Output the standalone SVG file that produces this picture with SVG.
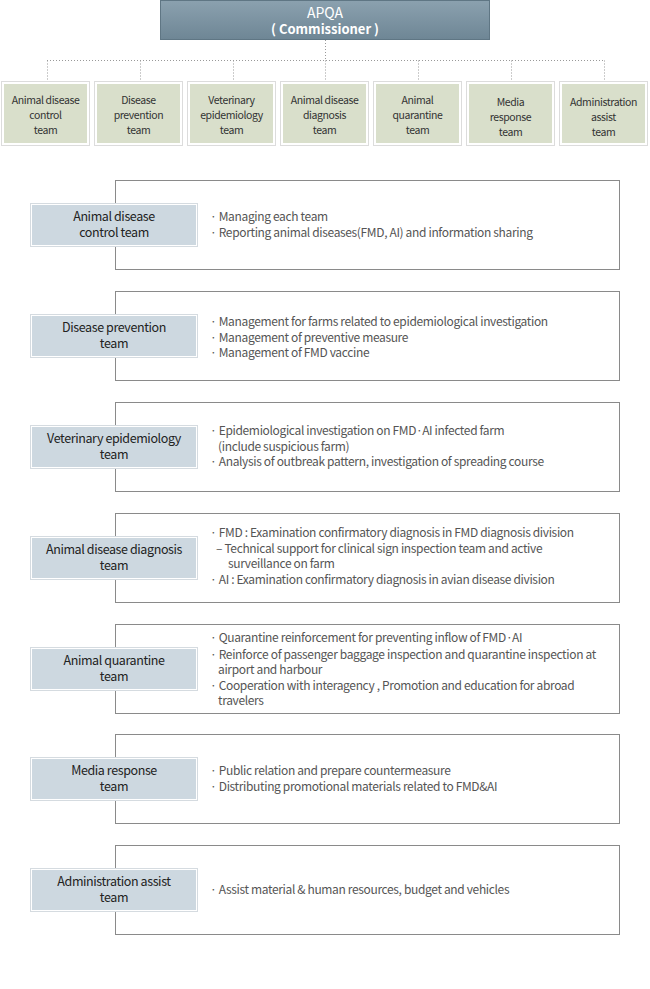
<svg xmlns="http://www.w3.org/2000/svg" width="650" height="989" viewBox="0 0 650 989">
<defs>
<linearGradient id="hg" x1="0" y1="0" x2="0" y2="1">
<stop offset="0" stop-color="#8ba1af"/>
<stop offset="1" stop-color="#6e8695"/>
</linearGradient>
</defs>
<style>
.t{font-family:"Noto Sans CJK KR","Noto Sans",sans-serif;}
.team rect.o{fill:#ffffff;stroke:#dcdcdc;stroke-width:1;}
.team rect.i{fill:#d9dfcb;}
.team text{font-size:10.5px;fill:#333;text-anchor:middle;letter-spacing:-0.4px;}
.con line{stroke:#999;stroke-width:1;stroke-dasharray:1,2;}
.row rect.box{fill:#fff;stroke:#8a8a8a;stroke-width:1;}
.row rect.lo{fill:#fff;stroke:#d5dbe0;stroke-width:1;}
.row rect.li{fill:#cdd8e0;}
.row text.lab{font-size:12.5px;fill:#222;text-anchor:middle;letter-spacing:-0.4px;}
.row text.d{font-size:12px;fill:#555;letter-spacing:-0.35px;}
</style>

<g id="apqa">
<rect x="160.5" y="0.5" width="329" height="39" fill="url(#hg)" stroke="#5f7684"/>
<text class="t" x="325" y="18" font-size="14" fill="#fff" text-anchor="middle">APQA</text>
<text class="t" x="325" y="34" font-size="13" font-weight="bold" fill="#fff" text-anchor="middle">( Commissioner )</text>
</g>

<g id="connectors" class="con">
<line x1="325.5" y1="40" x2="325.5" y2="60.5"/>
<line x1="47" y1="60.5" x2="604" y2="60.5"/>
<line x1="47.5" y1="60.5" x2="47.5" y2="80"/>
<line x1="140.5" y1="60.5" x2="140.5" y2="80"/>
<line x1="233.5" y1="60.5" x2="233.5" y2="80"/>
<line x1="325.5" y1="60.5" x2="325.5" y2="80"/>
<line x1="418.5" y1="60.5" x2="418.5" y2="80"/>
<line x1="511.5" y1="60.5" x2="511.5" y2="80"/>
<line x1="604.5" y1="60.5" x2="604.5" y2="80"/>
</g>

<g id="team1" class="team t"><rect class="o" x="1.5" y="81.5" width="88" height="64"/><rect class="i" x="4" y="84" width="83" height="59"/>
<text x="45.5" y="104">Animal disease</text><text x="45.5" y="119">control</text><text x="45.5" y="134">team</text></g>
<g id="team2" class="team t"><rect class="o" x="94.5" y="81.5" width="88" height="64"/><rect class="i" x="97" y="84" width="83" height="59"/>
<text x="138.5" y="104">Disease</text><text x="138.5" y="119">prevention</text><text x="138.5" y="134">team</text></g>
<g id="team3" class="team t"><rect class="o" x="187.5" y="81.5" width="88" height="64"/><rect class="i" x="190" y="84" width="83" height="59"/>
<text x="231.5" y="104">Veterinary</text><text x="231.5" y="119">epidemiology</text><text x="231.5" y="134">team</text></g>
<g id="team4" class="team t"><rect class="o" x="280.5" y="81.5" width="88" height="64"/><rect class="i" x="283" y="84" width="83" height="59"/>
<text x="324.5" y="104">Animal disease</text><text x="324.5" y="119">diagnosis</text><text x="324.5" y="134">team</text></g>
<g id="team5" class="team t"><rect class="o" x="373.5" y="81.5" width="88" height="64"/><rect class="i" x="376" y="84" width="83" height="59"/>
<text x="417.5" y="104">Animal</text><text x="417.5" y="119">quarantine</text><text x="417.5" y="134">team</text></g>
<g id="team6" class="team t"><rect class="o" x="466.5" y="81.5" width="88" height="64"/><rect class="i" x="469" y="84" width="83" height="59"/>
<text x="510.5" y="106">Media</text><text x="510.5" y="121">response</text><text x="510.5" y="136">team</text></g>
<g id="team7" class="team t"><rect class="o" x="559.5" y="81.5" width="88" height="64"/><rect class="i" x="562" y="84" width="83" height="59"/>
<text x="603.5" y="106">Administration</text><text x="603.5" y="121">assist</text><text x="603.5" y="136">team</text></g>

<g id="row1" class="row t">
<rect class="box" x="115.5" y="180.5" width="504" height="89"/>
<rect class="lo" x="30.5" y="203.5" width="167" height="43"/><rect class="li" x="32" y="205" width="164" height="40"/>
<text class="lab" x="114" y="221">Animal disease</text><text class="lab" x="114" y="237">control team</text>
<text class="d" x="210" y="221">· Managing each team</text>
<text class="d" x="210" y="237">· Reporting animal diseases(FMD, AI) and information sharing</text>
</g>

<g id="row2" class="row t">
<rect class="box" x="115.5" y="291.5" width="504" height="89"/>
<rect class="lo" x="30.5" y="314.5" width="167" height="43"/><rect class="li" x="32" y="316" width="164" height="40"/>
<text class="lab" x="114" y="332">Disease prevention</text><text class="lab" x="114" y="348">team</text>
<text class="d" x="210" y="326">· Management for farms related to epidemiological investigation</text>
<text class="d" x="210" y="342">· Management of preventive measure</text>
<text class="d" x="210" y="357">· Management of FMD vaccine</text>
</g>

<g id="row3" class="row t">
<rect class="box" x="115.5" y="402.5" width="504" height="89"/>
<rect class="lo" x="30.5" y="425.5" width="167" height="43"/><rect class="li" x="32" y="427" width="164" height="40"/>
<text class="lab" x="114" y="443">Veterinary epidemiology</text><text class="lab" x="114" y="459">team</text>
<text class="d" x="210" y="435">· Epidemiological investigation on FMD·AI infected farm</text>
<text class="d" x="218" y="451">(include suspicious farm)</text>
<text class="d" x="210" y="466">· Analysis of outbreak pattern, investigation of spreading course</text>
</g>

<g id="row4" class="row t">
<rect class="box" x="115.5" y="513.5" width="504" height="89"/>
<rect class="lo" x="30.5" y="536.5" width="167" height="43"/><rect class="li" x="32" y="538" width="164" height="40"/>
<text class="lab" x="114" y="554">Animal disease diagnosis</text><text class="lab" x="114" y="570">team</text>
<text class="d" x="210" y="537">· FMD : Examination confirmatory diagnosis in FMD diagnosis division</text>
<text class="d" x="216" y="553">– Technical support for clinical sign inspection team and active</text>
<text class="d" x="228" y="568">surveillance on farm</text>
<text class="d" x="210" y="584">· AI : Examination confirmatory diagnosis in avian disease division</text>
</g>

<g id="row5" class="row t">
<rect class="box" x="115.5" y="624.5" width="504" height="89"/>
<rect class="lo" x="30.5" y="647.5" width="167" height="43"/><rect class="li" x="32" y="649" width="164" height="40"/>
<text class="lab" x="114" y="665">Animal quarantine</text><text class="lab" x="114" y="681">team</text>
<text class="d" x="210" y="642">· Quarantine reinforcement for preventing inflow of FMD·AI</text>
<text class="d" x="210" y="659">· Reinforce of passenger baggage inspection and quarantine inspection at</text>
<text class="d" x="218" y="674">airport and harbour</text>
<text class="d" x="210" y="690">· Cooperation with interagency , Promotion and education for abroad</text>
<text class="d" x="218" y="705">travelers</text>
</g>

<g id="row6" class="row t">
<rect class="box" x="115.5" y="734.5" width="504" height="89"/>
<rect class="lo" x="30.5" y="757.5" width="167" height="43"/><rect class="li" x="32" y="759" width="164" height="40"/>
<text class="lab" x="114" y="775">Media response</text><text class="lab" x="114" y="791">team</text>
<text class="d" x="210" y="775">· Public relation and prepare countermeasure</text>
<text class="d" x="210" y="791">· Distributing promotional materials related to FMD&amp;AI</text>
</g>

<g id="row7" class="row t">
<rect class="box" x="115.5" y="845.5" width="504" height="89"/>
<rect class="lo" x="30.5" y="868.5" width="167" height="43"/><rect class="li" x="32" y="870" width="164" height="40"/>
<text class="lab" x="114" y="886">Administration assist</text><text class="lab" x="114" y="902">team</text>
<text class="d" x="210" y="894">· Assist material &amp; human resources, budget and vehicles</text>
</g>
</svg>
